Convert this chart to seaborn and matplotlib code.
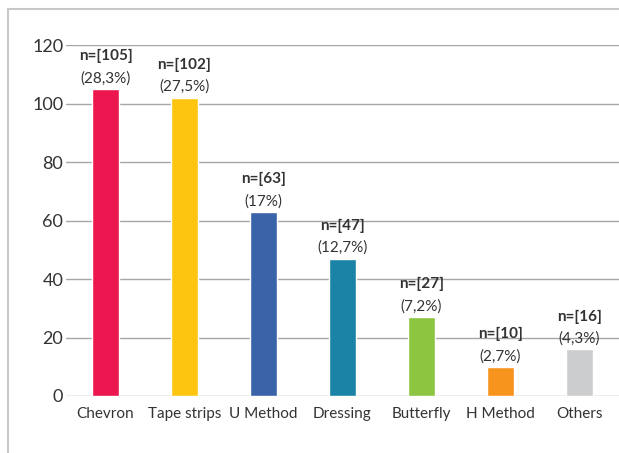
import matplotlib
matplotlib.use("Agg")
import matplotlib.pyplot as plt
import seaborn as sns
import pandas as pd
from matplotlib.lines import Line2D

categories = ["Chevron", "Tape strips", "U Method", "Dressing", "Butterfly", "H Method", "Others"]
counts = [105, 102, 63, 47, 27, 10, 16]
percents = ["28,3%", "27,5%", "17%", "12,7%", "7,2%", "2,7%", "4,3%"]
colors = ["#ED174F", "#FDC50F", "#3A63A8", "#1A83A6", "#8CC540", "#F7941D", "#CCCDCF"]
yticks = [0, 20, 40, 60, 80, 100, 120]

sns.set_theme(style="white")
plt.rcParams['font.family'] = ['Lato', 'DejaVu Sans']

df = pd.DataFrame({"cat": categories, "n": counts})

fig = plt.figure(figsize=(6.19, 4.53), dpi=100)
ax = fig.add_axes([66/619, 1 - 396/453, 1 - 66/619, (396 - 45)/453])
sns.barplot(data=df, x="cat", y="n", hue="cat", palette=colors, legend=False,
            width=0.33, ax=ax, saturation=1)

ax.set_ylim(0, 120)
ax.set_yticks(yticks)
ax.set_xlim(-0.5, len(categories) - 0.5)
ax.yaxis.grid(True, color="#A6A6A6", linewidth=1)
ax.set_axisbelow(True)
for s in ax.spines.values():
    s.set_visible(False)
ax.set_xlabel("")
ax.set_ylabel("")
ax.tick_params(axis="y", labelsize=13, colors="#333333", pad=2, length=0)
ax.tick_params(axis="x", labelsize=11, colors="#333333", pad=8, length=0)

for i, (c, p) in enumerate(zip(counts, percents)):
    ax.annotate(f"n=[{c}]", (i, c), xytext=(0, 18.5), textcoords="offset points",
                ha="center", va="bottom", fontsize=11, fontweight="bold",
                color="#333333", annotation_clip=False)
    ax.annotate(f"({p})", (i, c), xytext=(0, 2.5), textcoords="offset points",
                ha="center", va="bottom", fontsize=11, color="#333333",
                annotation_clip=False)

# outer frame lines (top and left)
fig.add_artist(Line2D([8/619, 1], [1 - 9/453, 1 - 9/453], transform=fig.transFigure,
                      color="#C8C8C8", linewidth=1.5))
fig.add_artist(Line2D([8/619, 8/619], [0, 1 - 9/453], transform=fig.transFigure,
                      color="#C8C8C8", linewidth=1.5))

fig.savefig("out.png", dpi=100)
